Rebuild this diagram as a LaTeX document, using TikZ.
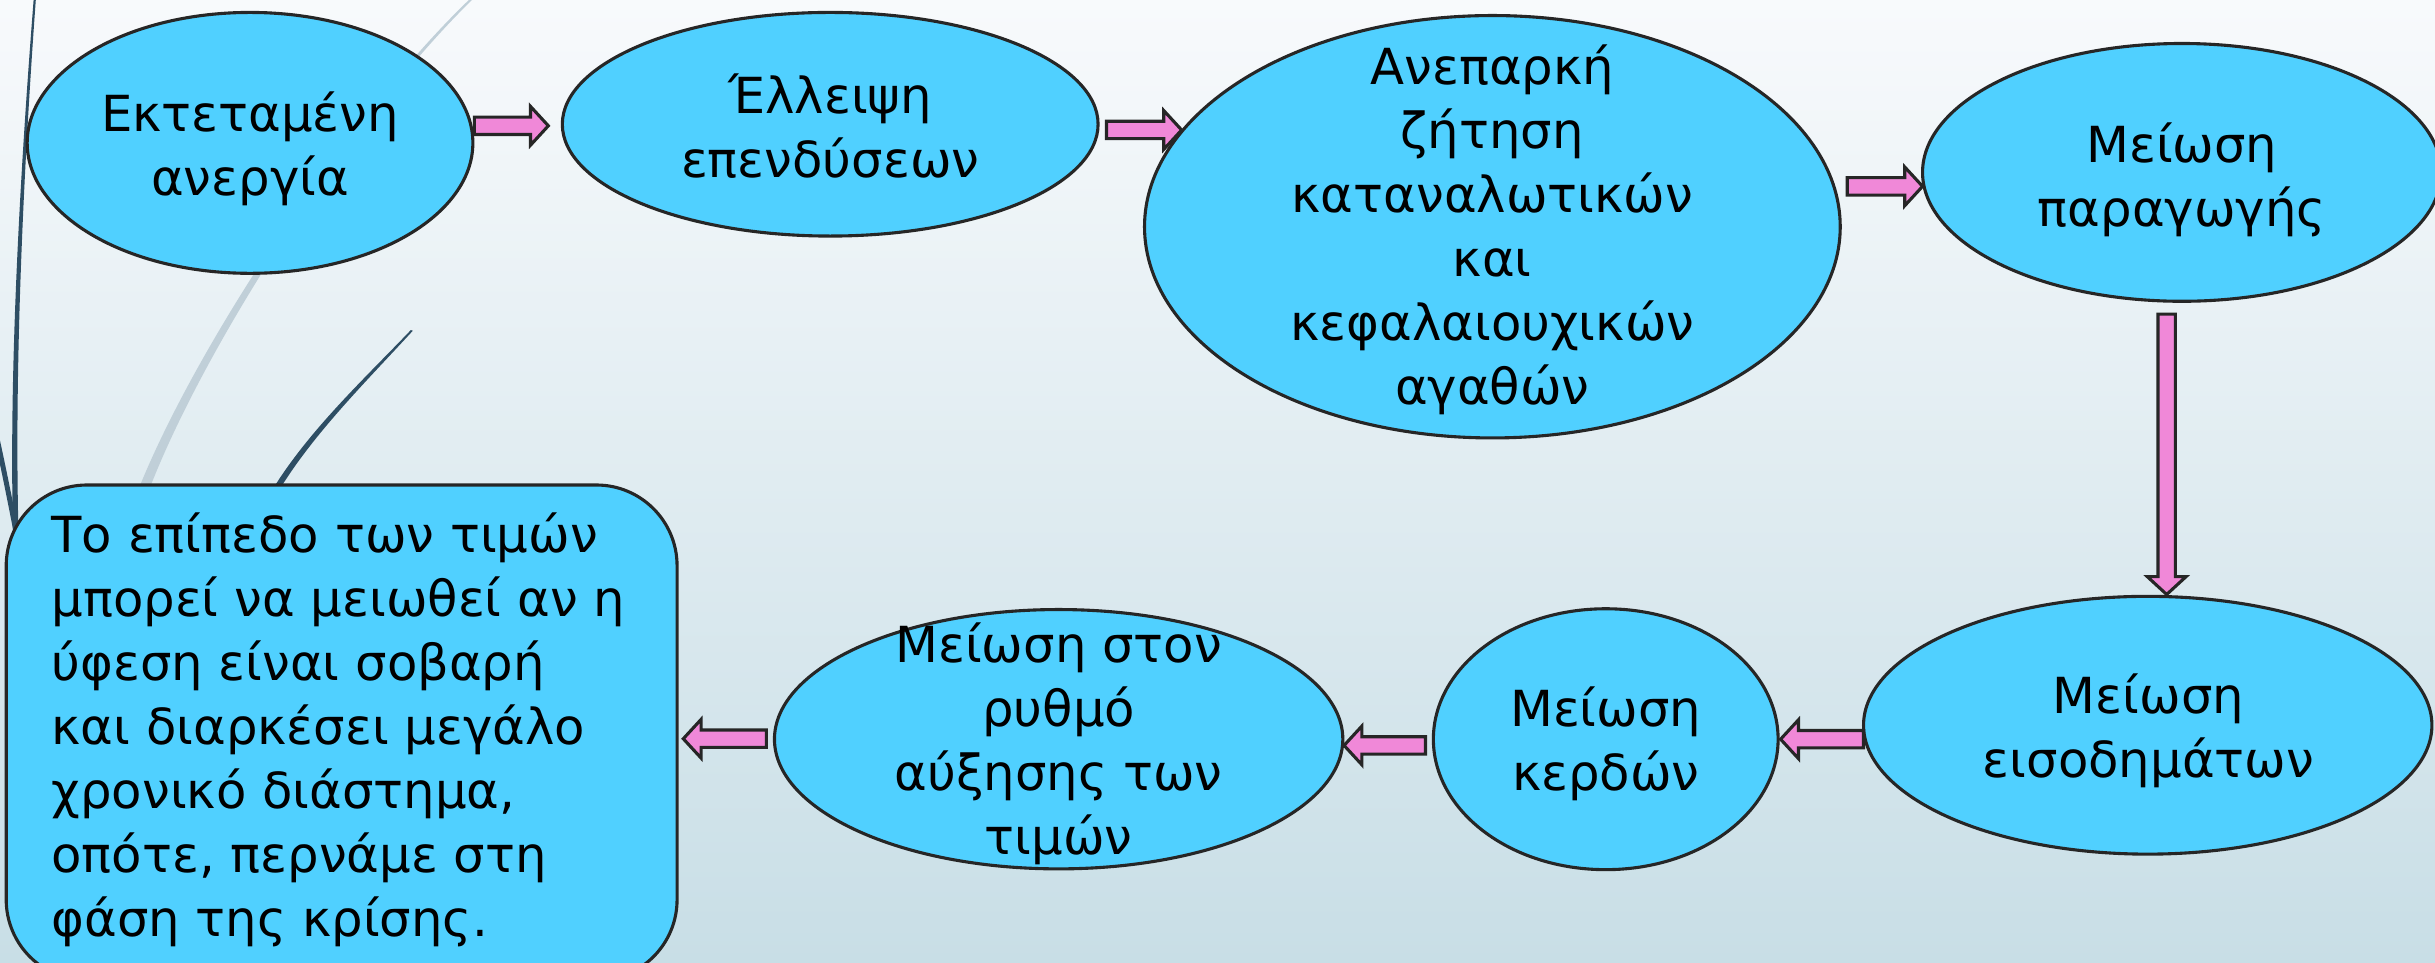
\documentclass[tikz,border=0pt]{standalone}
\usepackage{fontspec}
\setmainfont{DejaVu Sans}
\usetikzlibrary{shapes.geometric,calc}
\definecolor{ellfill}{RGB}{80,208,255}
\definecolor{outl}{RGB}{38,38,38}
\definecolor{arrfill}{RGB}{240,136,216}
\definecolor{bgtop}{RGB}{248,250,252}
\definecolor{bgbot}{RGB}{200,222,230}
\definecolor{wispdark}{RGB}{46,78,100}
\definecolor{wisplight}{RGB}{192,207,216}
\newcommand\ls{\rule[-13pt]{0pt}{40pt}}
\newcommand\blockarr[2]{%
  \coordinate (ba-s) at #1;
  \coordinate (ba-e) at #2;
  \coordinate (ba-h) at ($(ba-e)!11.5pt!(ba-s)$);
  \draw[blockarrow] ($(ba-s)!5.6pt!90:(ba-e)$) -- ($(ba-h)!5.6pt!-90:(ba-s)$)
    -- ($(ba-h)!12.5pt!-90:(ba-s)$) -- (ba-e) -- ($(ba-h)!12.5pt!90:(ba-s)$)
    -- ($(ba-h)!5.6pt!90:(ba-s)$) -- ($(ba-s)!5.6pt!-90:(ba-e)$) -- cycle;}
\begin{document}
\begin{tikzpicture}[x=1pt,y=-1pt,
  ell/.style={ellipse, draw=outl, fill=ellfill, line width=2pt, inner sep=0pt},
  roundbox/.style={rectangle, rounded corners=52pt, draw=outl, fill=ellfill, line width=2pt, inner sep=0pt},
  txt/.style={font=\fontsize{32}{41.2}\selectfont, align=center, inner sep=0pt, text=black},
  blockarrow/.style={draw=outl, fill=arrfill, line width=2pt, line join=miter},
  wdark/.style={fill=wispdark},
  wlight/.style={fill=wisplight}]
\useasboundingbox (0,0) rectangle (1568,619.5);
\shade[top color=bgtop, bottom color=bgbot] (0,0) rectangle (1568,619.5);
% decorative wisps
\path[wlight] (306,-2) .. controls (231,70) and (132,220) .. (95,318) -- (88,318) .. controls (127,219) and (229,69) .. (304,-2) -- cycle;
\path[wdark] (265.8,213) .. controls (236,245.5) and (202,279) .. (179.5,316) -- (175,316) .. controls (198.5,277.5) and (234,244.5) .. (264.6,212.5) -- cycle;
\path[wdark] (23.2,-2) .. controls (15,110) and (9,240) .. (12,346) -- (8.5,346) .. controls (5.5,240) and (13,110) .. (21.8,-2) -- cycle;
\draw[draw=wispdark, line width=3.2pt] (-2,282) .. controls (3,305) and (7,325) .. (11,346);
% nodes
\node[roundbox, minimum width=432pt, minimum height=319pt] (b) at (220,471.8) {};
\node[ell, minimum width=287pt, minimum height=168pt] (e1) at (161,92) {};
\node[ell, minimum width=345pt, minimum height=144pt] (e2) at (534.6,80) {};
\node[ell, minimum width=448pt, minimum height=272pt] (e3) at (961,146) {};
\node[ell, minimum width=334pt, minimum height=166pt] (e4) at (1405,111) {};
\node[ell, minimum width=366pt, minimum height=166pt] (e5) at (1383,467) {};
\node[ell, minimum width=222pt, minimum height=168pt] (e6) at (1034,476) {};
\node[ell, minimum width=366pt, minimum height=167pt] (e7) at (681.7,476) {};
% block arrows
\blockarr{($(e1.east)+(0,-11)$)}{($(e2.west)+(-8,1)$)}
\blockarr{($(e2.east)+(4.4,3.7)$)}{($(e3.west)+(24.9,-62.3)$)}
\blockarr{($(e3.east)+(3.5,-26)$)}{($(e4.west)+(1,9)$)}
\blockarr{($(e4.south)+(-9.8,7.3)$)}{($(e5.north)+(12.2,-0.2)$)}
\blockarr{($(e5.west)+(1,9)$)}{($(e6.east)+(0.6,0)$)}
\blockarr{($(e6.west)+(-4.1,4)$)}{($(e7.east)+(-0.2,4)$)}
\blockarr{($(e7.west)+(-4.2,-0.3)$)}{($(b.east)+(3,3.9)$)}
% texts
\node[txt] (t1) at (161,98.3) {\ls Εκτεταμένη\\\ls ανεργία};
\node[txt] (t2) at (534.6,86.4) {\ls Έλλειψη\\\ls επενδύσεων};
\node[txt] (t3) at (961,150.4) {\ls Ανεπαρκή\\\ls ζήτηση\\\ls καταναλωτικών\\\ls και\\\ls κεφαλαιουχικών\\\ls αγαθών};
\node[txt] (t4) at (1405,118.4) {\ls Μείωση\\\ls παραγωγής};
\node[txt] (t5) at (1383.5,473) {\ls Μείωση\\\ls εισοδημάτων};
\node[txt] (t6) at (1034,481.5) {\ls Μείωση\\\ls κερδών};
\node[txt] (t7) at (681.7,481.4) {\ls Μείωση στον\\\ls ρυθμό\\\ls αύξησης των\\\ls τιμών};
\node[txt, align=left, anchor=west] (t8) at (33,472.5) {\ls Το επίπεδο των τιμών\\\ls μπορεί να μειωθεί αν η\\\ls ύφεση είναι σοβαρή\\\ls και διαρκέσει μεγάλο\\\ls χρονικό διάστημα,\\\ls οπότε, περνάμε στη\\\ls φάση της κρίσης.};
\end{tikzpicture}
\end{document}
